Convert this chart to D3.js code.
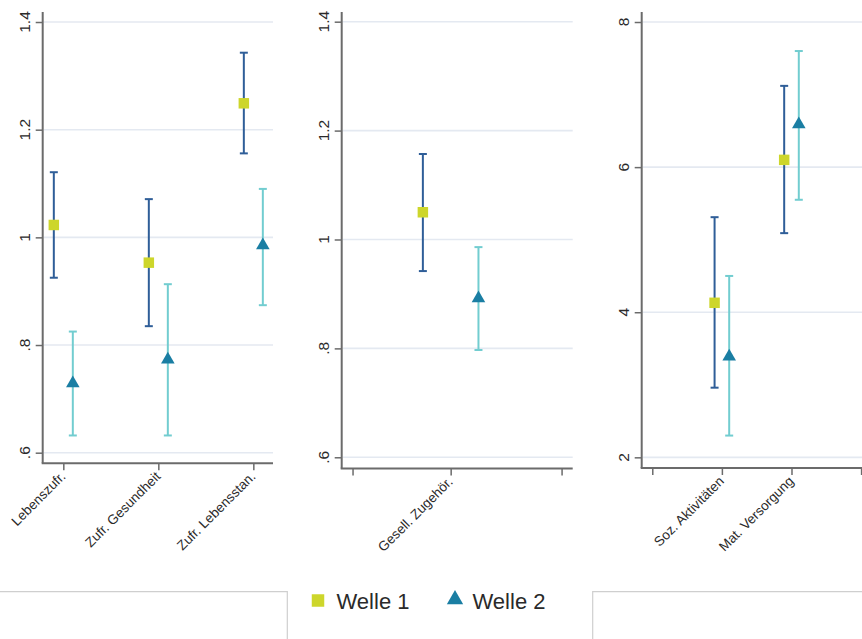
<!DOCTYPE html>
<html>
<head>
<meta charset="utf-8">
<script src="https://cdn.jsdelivr.net/npm/d3@7/dist/d3.min.js"></script>
<style>
  html, body { margin: 0; padding: 0; background: #fff; }
  svg { display: block; font-family: "Liberation Sans", Arial, sans-serif; }
</style>
</head>
<body>
<svg id="chart" width="862" height="639"></svg>
<script>
// ---------- DATA ----------
const seriesNames = ["Welle 1", "Welle 2"];

// Panel 1
const p1Categories = ["Lebenszufr.", "Zufr. Gesundheit", "Zufr. Lebensstan."];
const p1Welle1    = [1.023, 0.953, 1.249];
const p1Welle1Lo  = [0.925, 0.835, 1.156];
const p1Welle1Hi  = [1.121, 1.071, 1.343];
const p1Welle2    = [0.729, 0.773, 0.985];
const p1Welle2Lo  = [0.632, 0.632, 0.874];
const p1Welle2Hi  = [0.825, 0.913, 1.090];
const p1YTicks    = [0.6, 0.8, 1.0, 1.2, 1.4];
const p1YLabels   = [".6", ".8", "1", "1.2", "1.4"];

// Panel 2
const p2Categories = ["Gesell. Zugehör."];
const p2Welle1    = [1.050];
const p2Welle1Lo  = [0.942];
const p2Welle1Hi  = [1.157];
const p2Welle2    = [0.892];
const p2Welle2Lo  = [0.797];
const p2Welle2Hi  = [0.986];
const p2YTicks    = [0.6, 0.8, 1.0, 1.2, 1.4];
const p2YLabels   = [".6", ".8", "1", "1.2", "1.4"];

// Panel 3
const p3Categories = ["Soz. Aktivitäten", "Mat. Versorgung"];
const p3Welle1    = [4.13, 6.10];
const p3Welle1Lo  = [2.96, 5.09];
const p3Welle1Hi  = [5.31, 7.12];
const p3Welle2    = [3.39, 6.59];
const p3Welle2Lo  = [2.30, 5.55];
const p3Welle2Hi  = [4.50, 7.60];
const p3YTicks    = [2, 4, 6, 8];
const p3YLabels   = ["2", "4", "6", "8"];

// ---------- STYLE / LAYOUT ----------
const colW1Marker = "#cdd62b";
const colW2Marker = "#1a7ea3";
const colW1CI = "#2f5e98";
const colW2CI = "#72cdd0";
const colAxis = "#6b6b6b";
const colGrid = "#e4e9f1";
const colText = "#2a2a2a";

const panels = [
  { cats: p1Categories, w1: p1Welle1, w1lo: p1Welle1Lo, w1hi: p1Welle1Hi,
    w2: p1Welle2, w2lo: p1Welle2Lo, w2hi: p1Welle2Hi,
    yTicks: p1YTicks, yLabels: p1YLabels,
    x0: 42.7, x1: 273, y0: 12, y1: 463.3,
    yDom: [0.5803, 1.4186], xDom: [0.783, 3.207],
    xTicks: [1, 2, 3], labelTicks: [1, 2, 3], off: 0.1 },
  { cats: p2Categories, w1: p2Welle1, w1lo: p2Welle1Lo, w1hi: p2Welle1Hi,
    w2: p2Welle2, w2lo: p2Welle2Lo, w2hi: p2Welle2Hi,
    yTicks: p2YTicks, yLabels: p2YLabels,
    x0: 341.7, x1: 572.7, y0: 12, y1: 468.5,
    yDom: [0.5794, 1.4178], xDom: [0.608, 1.439],
    xTicks: [0.647, 1, 1.399], labelTicks: [1], off: 0.1 },
  { cats: p3Categories, w1: p3Welle1, w1lo: p3Welle1Lo, w1hi: p3Welle1Hi,
    w2: p3Welle2, w2lo: p3Welle2Lo, w2hi: p3Welle2Hi,
    yTicks: p3YTicks, yLabels: p3YLabels,
    x0: 641.7, x1: 862, y0: 12, y1: 468,
    yDom: [1.853, 8.138], xDom: [-0.152, 3.013],
    xTicks: [0, 1, 2, 3], labelTicks: [1, 2], off: 0.105 }
];

const svg = d3.select("#chart");

panels.forEach(p => {
  const y = d3.scaleLinear().domain(p.yDom).range([p.y1, p.y0]);
  const x = d3.scaleLinear().domain(p.xDom).range([p.x0, p.x1]);
  const g = svg.append("g");

  // grid
  g.selectAll("line.grid").data(p.yTicks).join("line")
    .attr("x1", p.x0 + 1).attr("x2", p.x1)
    .attr("y1", d => y(d)).attr("y2", d => y(d))
    .attr("stroke", colGrid).attr("stroke-width", 1.6);

  // y axis
  const yAxis = d3.axisLeft(y).tickValues(p.yTicks).tickSize(7).tickFormat("");
  const ya = g.append("g").attr("transform", `translate(${p.x0},0)`).call(yAxis);
  ya.select(".domain").attr("d", `M0,${p.y0}V${p.y1}`).attr("stroke", colAxis).attr("stroke-width", 2);
  ya.selectAll(".tick line").attr("stroke", colAxis).attr("stroke-width", 1.5);

  g.selectAll("text.ylab").data(p.yTicks).join("text")
    .attr("transform", d => `translate(${p.x0 - 13},${y(d)}) rotate(-90)`)
    .attr("text-anchor", "middle")
    .attr("font-size", 15.5)
    .attr("fill", colText)
    .text((d, i) => p.yLabels[i]);

  // x axis
  const xAxis = d3.axisBottom(x).tickValues(p.xTicks).tickSize(7).tickFormat("");
  const xa = g.append("g").attr("transform", `translate(0,${p.y1})`).call(xAxis);
  xa.select(".domain").attr("d", `M${p.x0 - 1},0H${p.x1}`).attr("stroke", colAxis).attr("stroke-width", 2);
  xa.selectAll(".tick line").attr("stroke", colAxis).attr("stroke-width", 1.5);

  g.selectAll("text.xlab").data(p.labelTicks).join("text")
    .attr("transform", d => `translate(${x(d) + 3},${p.y1 + 14}) rotate(-45)`)
    .attr("text-anchor", "end")
    .attr("font-size", 13.5)
    .attr("fill", colText)
    .text((d, i) => p.cats[i]);

  // series
  const series = [
    { v: p.w1, lo: p.w1lo, hi: p.w1hi, off: -p.off, ci: colW1CI, mk: colW1Marker, sym: d3.symbolSquare, size: 110 },
    { v: p.w2, lo: p.w2lo, hi: p.w2hi, off: p.off, ci: colW2CI, mk: colW2Marker, sym: d3.symbolTriangle, size: 80 }
  ];
  series.forEach(s => {
    const pts = p.labelTicks.map((c, i) => ({ cx: x(c + s.off), v: s.v[i], lo: s.lo[i], hi: s.hi[i] }));
    const sg = g.append("g");
    sg.selectAll("line.ci").data(pts).join("line")
      .attr("x1", d => d.cx).attr("x2", d => d.cx)
      .attr("y1", d => y(d.lo)).attr("y2", d => y(d.hi))
      .attr("stroke", s.ci).attr("stroke-width", 2);
    sg.selectAll("line.caphi").data(pts).join("line")
      .attr("x1", d => d.cx - 4).attr("x2", d => d.cx + 4)
      .attr("y1", d => y(d.hi)).attr("y2", d => y(d.hi))
      .attr("stroke", s.ci).attr("stroke-width", 2);
    sg.selectAll("line.caplo").data(pts).join("line")
      .attr("x1", d => d.cx - 4).attr("x2", d => d.cx + 4)
      .attr("y1", d => y(d.lo)).attr("y2", d => y(d.lo))
      .attr("stroke", s.ci).attr("stroke-width", 2);
    sg.selectAll("path.mk").data(pts).join("path")
      .attr("transform", d => `translate(${d.cx},${y(d.v)})`)
      .attr("d", d3.symbol().type(s.sym).size(s.size))
      .attr("fill", s.mk);
  });
});

// legend area boxes
svg.append("path").attr("d", "M0,591.7H287.3V639").attr("fill", "none").attr("stroke", "#cfcfcf").attr("stroke-width", 1.2);
svg.append("path").attr("d", "M862,591.7H592.7V639").attr("fill", "none").attr("stroke", "#cfcfcf").attr("stroke-width", 1.2);

// legend
const legendX = [318, 455];
const legendSyms = [d3.symbolSquare, d3.symbolTriangle];
const legendCols = [colW1Marker, colW2Marker];
const legendSizes = [156, 115];
const lg = svg.append("g");
seriesNames.forEach((name, i) => {
  lg.append("path")
    .attr("transform", `translate(${legendX[i]},${i === 0 ? 600.5 : 599.5})`)
    .attr("d", d3.symbol().type(legendSyms[i]).size(legendSizes[i]))
    .attr("fill", legendCols[i]);
  lg.append("text")
    .attr("x", legendX[i] + (i === 0 ? 18.5 : 17.5))
    .attr("y", 609.3)
    .attr("font-size", 22)
    .attr("fill", colText)
    .text(name);
});
</script>
</body>
</html>
